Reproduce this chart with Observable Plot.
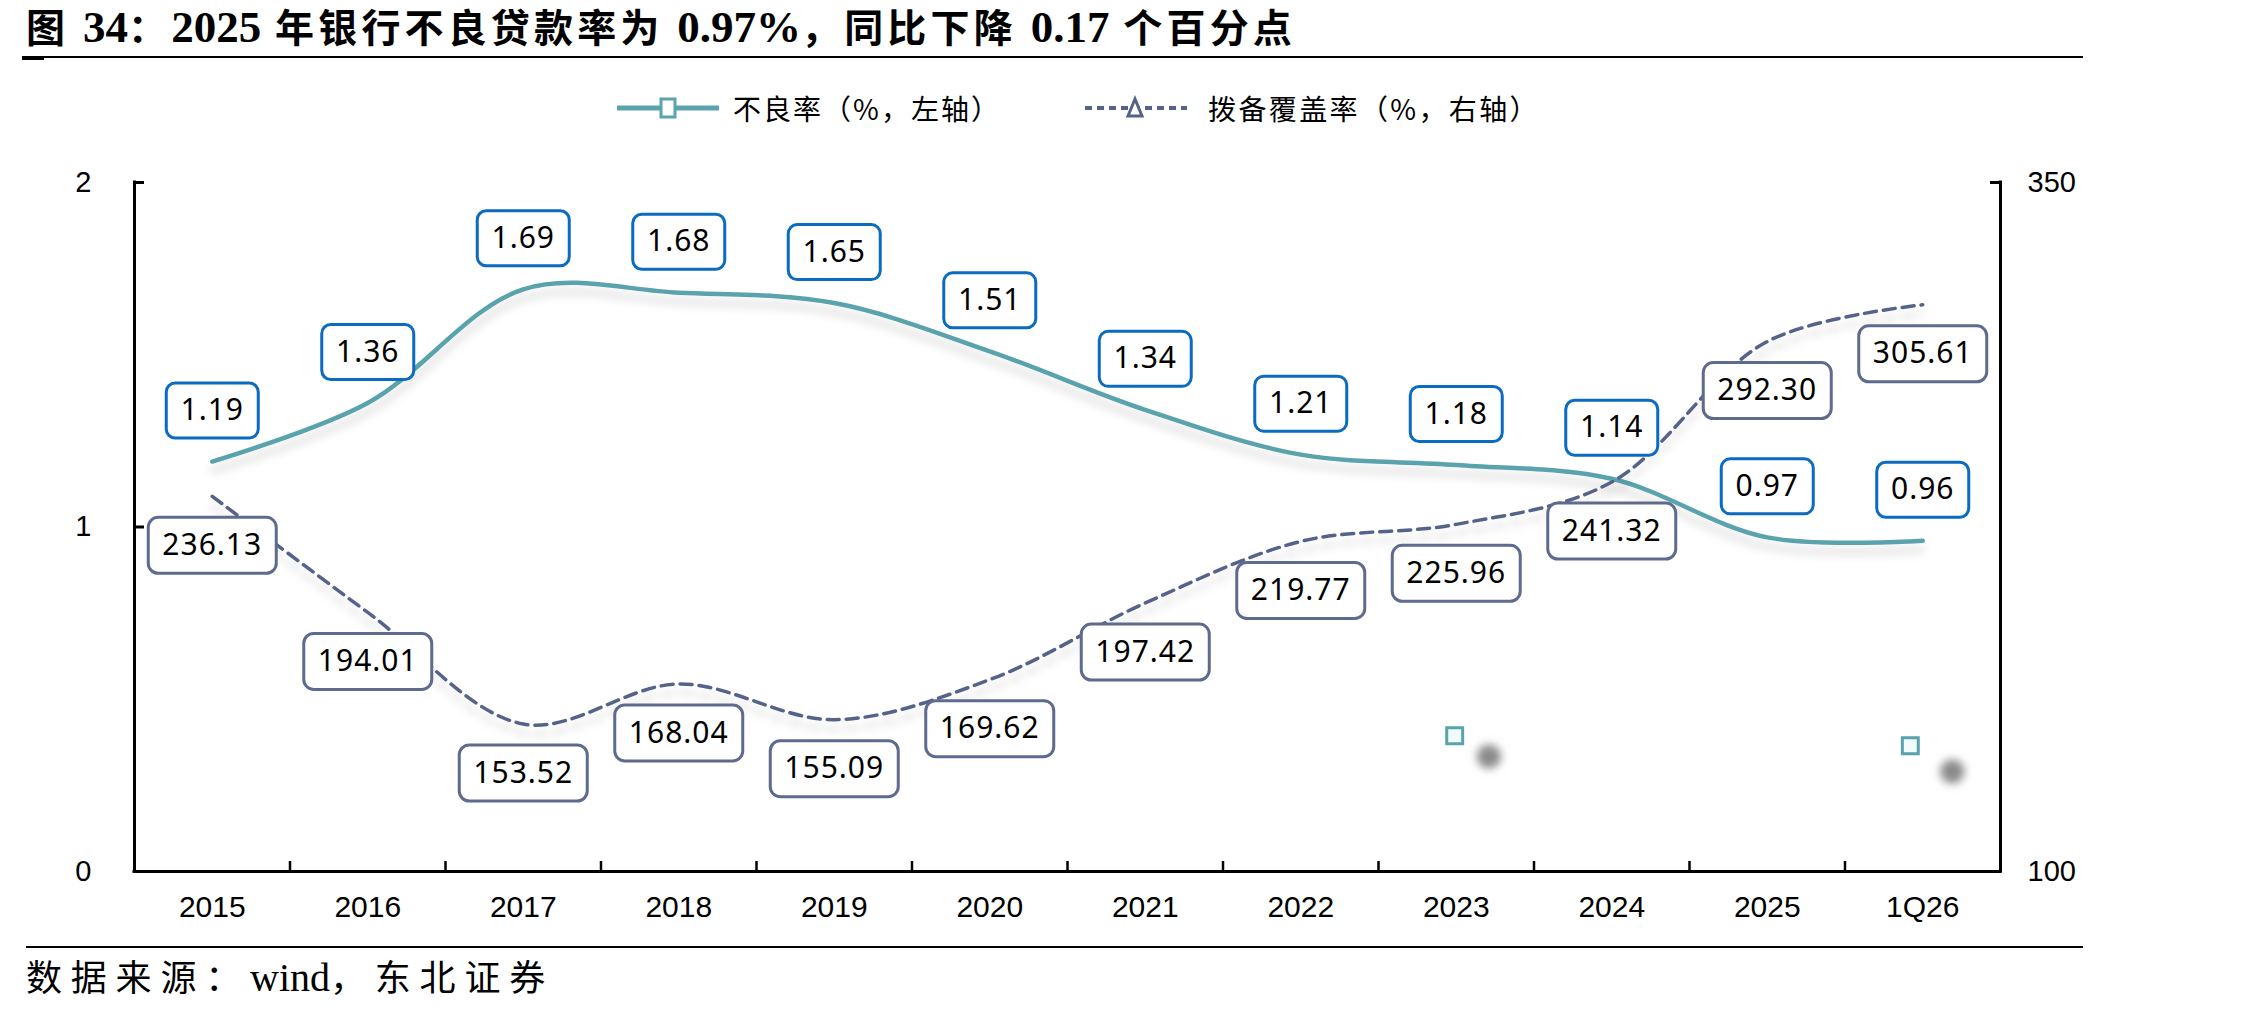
<!DOCTYPE html>
<html><head><meta charset="utf-8">
<script src="https://cdn.jsdelivr.net/npm/d3@7"></script>
<script src="https://cdn.jsdelivr.net/npm/@observablehq/plot@0.6"></script>
<style>
html,body{margin:0;padding:0;background:#fff;}
body{width:2268px;height:1012px;position:relative;overflow:hidden;}
.abs{position:absolute;white-space:nowrap;}
#title{left:26px;top:2px;font-family:"Liberation Serif","Noto Sans CJK SC",serif;font-weight:bold;font-size:39px;line-height:50px;color:#000;}
#title .lat{font-size:45px;letter-spacing:0;}
.rule{position:absolute;background:#000;}
.legtxt{font-family:"Noto Sans CJK SC",sans-serif;font-size:28px;line-height:34px;top:91px;color:#000;}
#caption{left:26px;top:957px;font-family:"Liberation Serif","Noto Sans CJK SC",serif;font-size:36px;line-height:42px;color:#000;}
#caption .lat{font-size:40px;letter-spacing:0;}
#chart{position:absolute;left:0;top:130px;}
</style></head>
<body>
<div id="title" class="abs"></div>
<div class="rule" style="left:26px;top:56px;width:2057px;height:2px;"></div>
<div class="rule" style="left:22px;top:56px;width:22px;height:4px;"></div>

<svg class="abs" style="left:612px;top:94px" width="112" height="28">
  <line x1="5" x2="107" y1="14" y2="14" stroke="#5AA3AD" stroke-width="5"/>
  <rect x="49" y="5" width="14" height="18" fill="#fff" stroke="#5AA3AD" stroke-width="3"/>
</svg>
<div id="leg1" class="abs legtxt" style="left:733px;"></div>
<svg class="abs" style="left:1080px;top:94px" width="112" height="28">
  <line x1="5" x2="107" y1="14" y2="14" stroke="#55628A" stroke-width="4" stroke-dasharray="7,5"/>
  <polygon points="55,5 48,22 62,22" fill="#fff" stroke="#55628A" stroke-width="3"/>
</svg>
<div id="leg2" class="abs legtxt" style="left:1208px;"></div>

<div id="chart"></div>

<div class="rule" style="left:26px;top:946px;width:2057px;height:2px;"></div>
<div id="caption" class="abs"></div>

<script>
// ---------- data ----------
const titleText = "图 34：2025 年银行不良贷款率为 0.97%，同比下降 0.17 个百分点";
const legendNames = ["不良率（%，左轴）", "拨备覆盖率（%，右轴）"];
const captionText = "数据来源：wind，东北证券";

const categories = ["2015","2016","2017","2018","2019","2020","2021","2022","2023","2024","2025","1Q26"];
const nplRate  = [1.19, 1.36, 1.69, 1.68, 1.65, 1.51, 1.34, 1.21, 1.18, 1.14, 0.97, 0.96];
const coverage = [236.13, 194.01, 153.52, 168.04, 155.09, 169.62, 197.42, 219.77, 225.96, 241.32, 292.30, 305.61];

const leftTicks = [0, 1, 2];
const rightTicks = [100, 350];

// stray marker artefacts visible in the source picture (position in category index, left-axis value)
const strayMarkerIdx = [7.99, 10.92];
const strayMarkerVal = [0.394, 0.365];
const strayShadowIdx = [8.21, 11.19];
const strayShadowVal = [0.334, 0.29];

// ---------- header / footer text ----------
const titleEl = document.getElementById("title");
titleEl.innerHTML = titleText.replace(/([0-9.%]+)/g, '<span class="lat">$1</span>');
document.getElementById("leg1").textContent = legendNames[0];
document.getElementById("leg2").textContent = legendNames[1];
const capEl = document.getElementById("caption");
capEl.innerHTML = captionText.replace(/([A-Za-z]+)/g, '<span class="lat">$1</span>');

function fit(el, target) {
  let n = el.textContent.length;
  el.querySelectorAll(".lat").forEach(s => { n -= s.textContent.length; });
  const w = el.getBoundingClientRect().width;
  el.style.letterSpacing = ((target - w) / n) + "px";
}
fit(titleEl, 1270);
fit(document.getElementById("leg1"), 268);
fit(document.getElementById("leg2"), 332);
fit(capEl, 528);

// ---------- chart ----------
const leftDomain = [0, 2], rightDomain = [100, 350];
const toLeft = v => leftDomain[0] + (v - rightDomain[0]) * (leftDomain[1] - leftDomain[0]) / (rightDomain[1] - rightDomain[0]);
const toRight = v => rightDomain[0] + (v - leftDomain[0]) * (rightDomain[1] - rightDomain[0]) / (leftDomain[1] - leftDomain[0]);

const rows = categories.map((c, i) => ({i, cat: c, npl: nplRate[i], cov: coverage[i]}));
const strays = strayMarkerIdx.map((x, k) => ({x, y: strayMarkerVal[k]}));
const shadows = strayShadowIdx.map((x, k) => ({x, y: strayShadowVal[k]}));

const W = 2268, H = 810, mL = 134, mR = 268, mT = 52, mB = 69;
const plotW = W - mL - mR, plotH = H - mT - mB;
const teal = "#5AA3AD", slate = "#55628A", blue = "#0B6BC1", boxSlate = "#5E6B8E";
const fmt2 = d3.format(".2f");

function roundRect(w, h, r) {
  return {draw(ctx) {
    const x0 = -w/2, y0 = -h/2, x1 = w/2, y1 = h/2;
    ctx.moveTo(x0 + r, y0);
    ctx.lineTo(x1 - r, y0); ctx.arcTo(x1, y0, x1, y0 + r, r);
    ctx.lineTo(x1, y1 - r); ctx.arcTo(x1, y1, x1 - r, y1, r);
    ctx.lineTo(x0 + r, y1); ctx.arcTo(x0, y1, x0, y1 - r, r);
    ctx.lineTo(x0, y0 + r); ctx.arcTo(x0, y0, x0 + r, y0, r);
    ctx.closePath();
  }};
}

const chart = Plot.plot({
  width: W, height: H,
  marginLeft: mL, marginRight: mR, marginTop: mT, marginBottom: mB,
  x: {type: "linear", domain: [-0.5, categories.length - 0.5], axis: null},
  y: {type: "linear", domain: leftDomain, axis: null},
  style: {fontFamily: "'Liberation Sans', Arial, sans-serif", fontSize: "29px", color: "#000", background: "#fff", overflow: "visible"},
  marks: [
    Plot.dot(shadows, {x: "x", y: "y", r: 12, fill: "#8a8a8a"}),
    Plot.dot(strays, {x: "x", y: "y", r: 9, symbol: "square", fill: "#f2fbfc", stroke: teal, strokeWidth: 3}),
    Plot.line(rows, {x: "i", y: "npl", stroke: teal, strokeWidth: 4.5, curve: "catmull-rom"}),
    Plot.line(rows, {x: "i", y: d => toLeft(d.cov), stroke: slate, strokeWidth: 3.5, strokeDasharray: "12,7", curve: "catmull-rom"}),
    // axis lines
    Plot.ruleX([-0.5, categories.length - 0.5], {stroke: "#000", strokeWidth: 3, strokeLinecap: "square"}),
    Plot.ruleY([0], {stroke: "#000", strokeWidth: 3, strokeLinecap: "square"}),
    // inward ticks
    Plot.tickY(leftTicks, {y: d => d, stroke: "#000", strokeWidth: 3, insetRight: plotW - 10}),
    Plot.tickY(rightTicks.map(toLeft), {y: d => d, stroke: "#000", strokeWidth: 3, insetLeft: plotW - 10}),
    Plot.tickX(d3.range(1, categories.length), {x: d => d - 0.5, stroke: "#000", strokeWidth: 2.5, insetTop: plotH - 10}),
    // axis labels
    Plot.axisX(d3.range(categories.length), {tickFormat: i => categories[i], tickSize: 0, tickPadding: 24, fontSize: 30}),
    Plot.axisY(leftTicks, {anchor: "left", tickSize: 0, tickPadding: 43, tickFormat: d => String(d)}),
    Plot.axisY(rightTicks.map(toLeft), {anchor: "right", tickSize: 0, tickPadding: 27, tickFormat: d => String(Math.round(toRight(d)))}),
    // data label boxes
    Plot.dot(rows, {x: "i", y: "npl", dy: -51, r: 10, symbol: roundRect(92, 55, 9), fill: "#fff", stroke: blue, strokeWidth: 3}),
    Plot.text(rows, {x: "i", y: "npl", dy: -51, text: d => fmt2(d.npl), fontSize: 30, fontFamily: "'Noto Sans', sans-serif", fill: "#000"}),
    Plot.dot(rows, {x: "i", y: d => toLeft(d.cov), dy: 49, r: 10, symbol: roundRect(128, 56, 10), fill: "#fff", stroke: boxSlate, strokeWidth: 3}),
    Plot.text(rows, {x: "i", y: d => toLeft(d.cov), dy: 49, text: d => fmt2(d.cov), fontSize: 30, fontFamily: "'Noto Sans', sans-serif", fill: "#000"})
  ]
});
document.getElementById("chart").appendChild(chart);

// soft drop shadows as in the source
const svg = d3.select(chart);
const defs = svg.insert("defs", ":first-child");
const f = defs.append("filter").attr("id", "lineShadow").attr("x", "-5%").attr("y", "-30%").attr("width", "110%").attr("height", "180%");
f.append("feDropShadow").attr("dx", 0).attr("dy", 9).attr("stdDeviation", 5).attr("flood-color", "#000").attr("flood-opacity", 0.16);
const b = defs.append("filter").attr("id", "blob").attr("x", "-100%").attr("y", "-100%").attr("width", "300%").attr("height", "300%");
b.append("feGaussianBlur").attr("stdDeviation", 4);
svg.selectAll('g[aria-label="line"]').attr("filter", "url(#lineShadow)");
svg.selectAll('g[aria-label="dot"][fill="#8a8a8a"]').attr("filter", "url(#blob)");
svg.selectAll('g[aria-label="text"] text').style("letter-spacing", "1px");
</script>
</body></html>
